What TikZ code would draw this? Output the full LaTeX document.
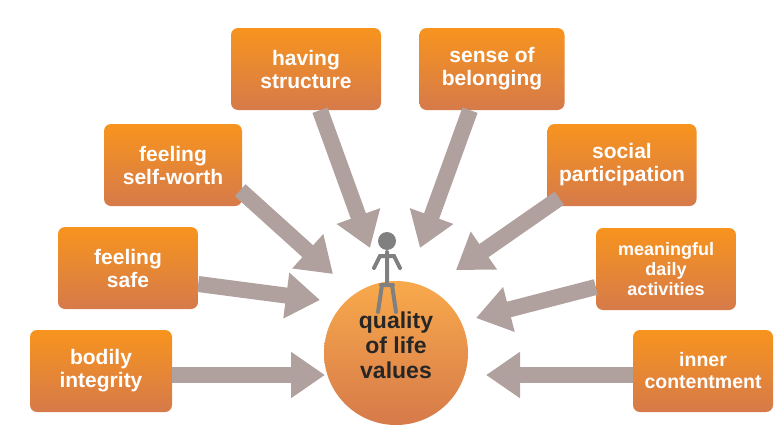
\documentclass[tikz,border=0pt]{standalone}
\usepackage{fontspec}
\setmainfont{Liberation Sans}
\usetikzlibrary{arrows.meta,shadings}
\definecolor{boxtop}{RGB}{247,148,30}
\definecolor{boxbot}{RGB}{214,122,74}
\definecolor{arrgray}{RGB}{176,160,158}
\definecolor{figgray}{RGB}{128,128,128}

\begin{document}
\begin{tikzpicture}[x=1pt,y=-1pt,
  valbox/.style={rounded corners=7pt,minimum width=140pt,minimum height=82pt,top color=boxtop,bottom color=boxbot,draw=none,text=white,font=\bfseries\fontsize{21}{23}\selectfont,align=center,inner sep=2pt},
  bigarrow/.style={arrgray,line width=16pt,-{Triangle[width=44pt,length=34pt]}}]
\useasboundingbox (0,0) rectangle (782,434);
% boxes
\node[valbox,minimum width=150pt] (struct) at (306,69) {having\\structure};
\node[valbox,minimum width=145pt] (belong) at (492,69) {sense of\\belonging};
\node[valbox,minimum width=138pt] (worth) at (173,165) {feeling\\self-worth};
\node[valbox,minimum width=149pt] (social) at (622,165) {social\\participation};
\node[valbox] (safe) at (128,268) {feeling\\safe};
\node[valbox,font=\bfseries\fontsize{18}{20}\selectfont] (daily) at (666,269) {meaningful\\daily\\activities};
\node[valbox,minimum width=142pt] (bodily) at (101,371) {bodily\\integrity};
\node[valbox,font=\bfseries\fontsize{19.5}{22}\selectfont] (inner) at (703,371) {inner\\contentment};
% centre
\node[circle,minimum size=144pt,top color=boxtop!80!white,bottom color=boxbot,draw=none] (qol) at (396,353) {};
\node[font=\bfseries\fontsize{23}{25}\selectfont,align=center,text=black!85] (qoltext) at (396,345) {quality\\of life\\values};
% figure
\fill[figgray] (387,241) circle (9);
\draw[figgray,line width=4pt,line cap=round] (387,252) -- (387,285)
  (374,268) -- (380,256) -- (394,256) -- (400,268)
  (381,285) -- (393,285) (382,285) -- (378,312) (392,285) -- (396,312);
% arrows
\coordinate (tstruct) at (370,248);
\coordinate (tbelong) at (420,248);
\coordinate (tworth) at (333,274);
\coordinate (tsocial) at (456,270);
\coordinate (tsafe) at (320,300);
\coordinate (tdaily) at (476,318);
\coordinate (tbodily) at (325,375);
\coordinate (tinner) at (486,375);
\draw[bigarrow] (struct.south) ++(14,0) -- (tstruct);
\draw[bigarrow] (belong.south) ++(-22,0) -- (tbelong);
\draw[bigarrow] (worth.south east) ++(-2,-16) -- (tworth);
\draw[bigarrow] (social.south west) ++(12,-8) -- (tsocial);
\draw[bigarrow] (safe.east) ++(0,16) -- (tsafe);
\draw[bigarrow] (daily.west) ++(0,18) -- (tdaily);
\draw[bigarrow] (bodily.east) ++(0,4) -- (tbodily);
\draw[bigarrow] (inner.west) ++(0,4) -- (tinner);
\end{tikzpicture}
\end{document}
